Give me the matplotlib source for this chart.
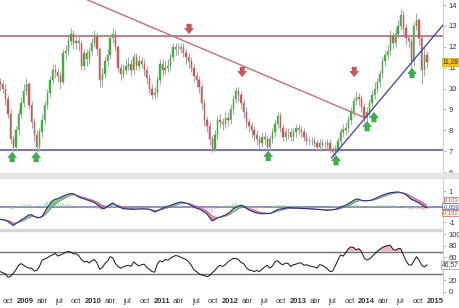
import numpy as np
import pandas as pd
import matplotlib
matplotlib.use("Agg")
import matplotlib.pyplot as plt
import matplotlib.dates as mdates
from matplotlib.patches import Rectangle
import logging
logging.getLogger('matplotlib.font_manager').setLevel(logging.ERROR)

plt.rcParams['font.family'] = ['Liberation Sans', 'DejaVu Sans']
NARROW = ['Liberation Sans Narrow', 'Liberation Sans', 'DejaVu Sans']

# ---------------- data (bi-weekly candles) ----------------
start_date = '2008-08-20'
first_open = 10.3
closes = [10.2,10.0,9.5,8.8,7.6,7.2,8.0,8.8,9.3,9.9,
          10.2,9.2,8.4,7.8,7.2,7.9,8.5,9.2,9.8,10.4,
          10.9,10.8,10.6,10.3,11.7,11.8,12.3,12.6,12.2,12.3,
          12.2,11.1,11.7,11.4,11.8,12.2,12.5,11.9,10.4,10.7,
          11.3,11.6,12.4,12.6,12.0,11.0,10.7,10.9,11.1,11.2,
          10.9,11.5,11.1,11.3,11.2,10.9,10.5,10.0,9.7,9.8,
          10.4,11.2,10.9,11.0,11.1,11.5,12.0,11.9,11.9,12.0,
          11.7,11.5,11.3,11.0,10.6,10.4,10.1,9.3,8.5,8.2,
          7.6,7.1,7.8,8.5,8.4,8.3,8.6,8.5,9.0,9.5,
          9.9,9.7,9.3,8.9,8.4,8.2,8.0,7.8,7.6,7.4,
          7.7,7.6,7.2,7.6,7.9,8.3,8.7,8.1,7.7,7.9,
          7.9,7.7,7.9,8.1,8.0,7.9,7.7,7.5,7.5,7.5,
          7.4,7.2,7.4,7.3,7.3,7.4,7.1,6.95,7.1,7.5,
          7.9,8.0,8.1,8.5,8.9,9.4,9.6,9.5,9.1,8.6,
          8.9,9.3,9.7,10.0,10.3,10.7,11.3,11.6,11.8,12.5,
          12.2,12.6,13.0,13.5,12.9,12.4,12.3,11.3,13.0,13.3,
          12.4,10.9,11.6,11.28]
highs = [10.5,10.4,10.2,9.7,9.0,7.8,8.2,9.0,9.6,10.2,
         10.5,10.3,9.4,8.6,8.0,8.1,8.8,9.4,10.0,10.6,
         11.2,11.2,11.0,10.8,11.9,12.1,12.5,12.9,12.8,12.6,
         12.5,12.3,11.9,11.9,12.0,12.4,12.8,12.7,12.0,11.0,
         11.5,11.9,12.6,12.9,12.8,12.1,11.2,11.2,11.4,11.5,
         11.4,11.7,11.7,11.6,11.5,11.4,11.1,10.7,10.2,10.1,
         10.6,11.4,11.4,11.3,11.4,11.7,12.2,12.2,12.2,12.2,
         12.2,11.9,11.7,11.5,11.2,10.8,10.6,10.2,9.5,8.7,
         8.4,7.8,8.0,8.7,8.8,8.6,8.9,8.9,9.2,9.7,
         10.1,10.1,9.9,9.5,9.1,8.6,8.4,8.2,8.0,7.8,
         7.9,7.9,7.8,7.8,8.1,8.5,8.9,8.9,8.3,8.1,
         8.1,8.1,8.1,8.3,8.3,8.2,8.1,7.9,7.7,7.7,
         7.7,7.6,7.6,7.6,7.5,7.6,7.6,7.2,7.3,7.7,
         8.1,8.3,8.4,8.7,9.1,9.6,9.9,9.8,9.7,9.3,
         9.1,9.5,9.9,10.3,10.5,10.9,11.5,11.8,12.1,12.8,
         12.7,12.9,13.3,13.8,13.7,13.1,12.6,12.4,13.2,13.6,
         13.4,12.5,12.0,11.8]
lows = [9.9,9.8,9.2,8.6,7.4,6.95,7.0,7.8,8.6,9.1,
        9.7,9.0,8.1,7.5,6.95,7.0,7.7,8.3,9.0,9.6,
        10.2,10.5,10.3,10.0,10.2,11.4,11.6,12.1,11.9,11.9,
        11.8,10.9,10.9,11.1,11.2,11.6,12.0,11.6,10.1,10.1,
        10.5,11.1,11.4,12.2,11.8,10.8,10.4,10.5,10.7,10.9,
        10.6,10.7,10.9,10.9,11.0,10.6,10.2,9.8,9.5,9.5,
        9.6,10.2,10.6,10.7,10.8,10.9,11.3,11.6,11.6,11.7,
        11.5,11.2,11.0,10.8,10.3,10.1,9.8,9.0,8.2,7.9,
        7.3,6.95,7.0,7.6,8.1,8.0,8.1,8.2,8.3,8.8,
        9.3,9.4,9.0,8.6,8.1,7.9,7.7,7.5,7.3,7.1,
        7.2,7.3,7.0,7.0,7.4,7.7,8.1,7.9,7.5,7.5,
        7.6,7.5,7.5,7.7,7.8,7.7,7.5,7.3,7.3,7.3,
        7.2,7.0,7.0,7.1,7.1,7.1,6.9,6.75,6.8,6.9,
        7.3,7.7,7.8,7.9,8.3,8.7,9.2,9.2,8.9,8.4,
        8.4,8.7,9.1,9.5,9.8,10.1,10.5,11.1,11.4,11.6,
        11.9,12.0,12.4,12.8,12.6,12.1,12.0,11.0,11.1,12.8,
        12.1,10.2,10.6,11.0]
macd = [-0.80,-0.84,-0.88,-0.95,-1.08,-1.20,-1.08,-0.97,-0.85,-0.75,
        -0.63,-0.52,-0.52,-0.62,-0.70,-0.70,-0.62,-0.35,-0.05,0.17,
        0.38,0.47,0.52,0.58,0.67,0.74,0.80,0.84,0.83,0.72,
        0.62,0.55,0.50,0.44,0.39,0.33,0.26,0.14,0.02,-0.12,
        -0.10,0.02,0.15,0.24,0.12,0.02,-0.06,-0.13,-0.14,-0.15,
        -0.16,-0.17,-0.16,-0.15,-0.14,-0.14,-0.15,-0.17,-0.25,-0.33,
        -0.27,-0.18,-0.10,-0.04,0.01,0.08,0.15,0.20,0.26,0.30,
        0.27,0.23,0.17,0.07,-0.02,-0.10,-0.15,-0.24,-0.35,-0.47,
        -0.70,-0.91,-0.82,-0.72,-0.66,-0.60,-0.53,-0.44,-0.30,-0.13,
        -0.04,0.05,0.08,0.04,-0.10,-0.20,-0.28,-0.35,-0.40,-0.43,
        -0.45,-0.44,-0.44,-0.43,-0.36,-0.27,-0.18,-0.15,-0.12,-0.09,
        -0.06,-0.07,-0.08,-0.09,-0.10,-0.11,-0.12,-0.13,-0.14,-0.15,
        -0.16,-0.17,-0.18,-0.20,-0.22,-0.23,-0.21,-0.19,-0.17,-0.11,
        -0.04,0.03,0.10,0.19,0.29,0.40,0.49,0.47,0.41,0.37,
        0.38,0.40,0.43,0.50,0.58,0.66,0.73,0.79,0.85,0.89,
        0.91,0.93,0.94,0.90,0.85,0.77,0.62,0.47,0.40,0.32,
        0.24,0.12,0.00,-0.06]
rsi = [35,33,31,25,27,32,38,46,49,46,
       43,41,41,36,37,44,55,57,59,62,
       64,67,62,64,66,68.5,70,69,66,66,
       63,56,52,53,50,54,56,50,39,42,
       49,53,61,59,49,44,41,43,45,46,
       44,52,48,45,47,48,42,39,35,34,
       48,54,52,56,55,58,61,63,62,60,
       58,56,52,46,38,35,31,29,28,26,
       28,33,37,43,46,44,47,52,55,58,
       58,56,51,49,42,38,37,35,37,35,
       39,43,46,41,45,52,54,49,47,50,
       49,44,47,48,50,50,46,47,45,44,
       43,41,47,46,43,40,35,36,45,55,
       64,62,68,75,78,77,73,75,70,59,
       55,57,61,66,70,74,77,79,80,81,
       74,72,75,75,64,54,47,46,53,61,
       55,46,43,46.57]

support_level = 7.06
resist_level = 12.53
red_trend_dates = ['2009-12-01', '2013-12-13']
red_trend_vals = [14.24, 8.64]
blue_trend_dates = ['2013-06-27', '2015-02-13']
blue_trend_vals = [6.68, 13.04]
up_arrow_dates = ['2008-10-23', '2009-02-28', '2012-07-23', '2013-07-21',
                  '2014-01-03', '2014-02-09', '2014-08-31']
up_arrow_vals = [6.73, 6.73, 6.78, 6.58, 8.21, 8.64, 10.75]
down_arrow_dates = ['2011-05-27', '2012-03-06', '2013-10-26']
down_arrow_vals = [12.85, 10.79, 10.79]
macd_labels = ['0,103', '-0,059', '-0,162']
rsi_ticks = [0, 20, 60, 80, 100]
month_ticks = pd.date_range('2008-10-01', '2015-01-01', freq='QS-JAN')
month_names = {4: 'abr', 7: 'jul', 10: 'oct'}

# ---------------- derived ----------------
dates = pd.date_range(start_date, periods=len(closes), freq='14D')
xd = mdates.date2num(dates)
closes_a = np.array(closes)
opens_a = np.concatenate([[first_open], closes_a[:-1]])
highs_a = np.maximum(np.array(highs), np.maximum(opens_a, closes_a))
lows_a = np.minimum(np.array(lows), np.minimum(opens_a, closes_a))
signal = pd.Series(macd).ewm(span=5, adjust=False).mean().values
macd_a = np.array(macd)
hist = macd_a - signal
rsi_a = np.array(rsi)

W, H = 460, 308
fig = plt.figure(figsize=(W / 100, H / 100), dpi=100)
fig.patch.set_facecolor('white')

def pos(top, bottom, right=443):
    return [0, 1 - bottom / H, right / W, (bottom - top) / H]

ax1 = fig.add_axes(pos(0, 173))
ax2 = fig.add_axes(pos(178, 228), sharex=ax1)
ax3 = fig.add_axes(pos(231, 294), sharex=ax1)

fig.patches.append(Rectangle((0, 1 - 178 / H), 1, 5 / H, transform=fig.transFigure,
                             color='#e4e4e4', zorder=0))
fig.patches.append(Rectangle((0, 1 - 231 / H), 443 / W, 2 / H, transform=fig.transFigure,
                             color='#d8d8d8', zorder=0))

tick_color = '#333333'
for ax in (ax1, ax2, ax3):
    ax.set_facecolor('white')
    for s in ('left', 'top', 'bottom'):
        ax.spines[s].set_visible(False)
    ax.spines['right'].set_color('#cfcfcf')
    ax.spines['right'].set_linewidth(0.8)
    ax.yaxis.tick_right()
    ax.tick_params(axis='y', length=2, width=0.5, color='#999999', pad=2,
                   labelsize=5.5, labelcolor=tick_color)
    ax.tick_params(axis='x', length=0)


def value_box(ax, text, yv, fs, color, fc, ec):
    # right-aligned against the figure's right edge so the box stays inside
    ax.annotate(text, xy=(1.0, yv), xycoords=('figure fraction', 'data'),
                xytext=(-0.8, 0), textcoords='offset points',
                fontsize=fs, family=NARROW, color=color, va='center', ha='right', zorder=10,
                bbox=dict(boxstyle='square,pad=0.1', fc=fc, ec=ec, lw=0.45),
                annotation_clip=False)

# ---------------- price panel ----------------
up = closes_a >= opens_a
green, red = '#3fae3f', '#c8585a'
ax1.vlines(xd, lows_a, highs_a, colors='#a8a8a8', linewidth=0.8, zorder=2)
ax1.bar(xd[up], (closes_a - opens_a)[up], bottom=opens_a[up], width=7,
        color=green, edgecolor=green, linewidth=0.3, zorder=3)
ax1.bar(xd[~up], (opens_a - closes_a)[~up], bottom=closes_a[~up], width=7,
        color=red, edgecolor=red, linewidth=0.3, zorder=3)

ax1.axhline(resist_level, color='#a86068', lw=1.1, zorder=1)
ax1.axhline(support_level, color='#6a6aa8', lw=1.3, zorder=1)
ax1.plot(mdates.date2num(pd.to_datetime(red_trend_dates)), red_trend_vals,
         color='#c27078', lw=1.0, zorder=4)
ax1.plot(mdates.date2num(pd.to_datetime(blue_trend_dates)), blue_trend_vals,
         color='#3b3bb5', lw=0.9, zorder=4)

astyle = 'simple,head_width=0.9,head_length=0.55,tail_width=0.45'
for d, v in zip(up_arrow_dates, up_arrow_vals):
    x = mdates.date2num(pd.Timestamp(d))
    ax1.annotate('', xy=(x, v + 0.22), xytext=(x, v - 0.24),
                 arrowprops=dict(arrowstyle=astyle, fc='#3cb04a', ec='#2a8a35', lw=0.3,
                                 mutation_scale=7, shrinkA=0, shrinkB=0), zorder=5)
for d, v in zip(down_arrow_dates, down_arrow_vals):
    x = mdates.date2num(pd.Timestamp(d))
    ax1.annotate('', xy=(x, v - 0.22), xytext=(x, v + 0.24),
                 arrowprops=dict(arrowstyle=astyle, fc='#c9575c', ec='#a84045', lw=0.3,
                                 mutation_scale=7, shrinkA=0, shrinkB=0), zorder=5)

ax1.set_ylim(5.96, 14.24)
ax1.set_yticks(range(6, 15))
value_box(ax1, f'{closes[-1]:.2f}'.replace('.', ','), closes[-1], 4.8,
          '#333333', '#f2c230', '#d9a400')

# ---------------- MACD panel ----------------
ax2.axhline(0, color='#6f7fb5', lw=1.2, zorder=1)
ax2.bar(xd, hist, width=9, color=np.where(hist >= 0, '#9fd99f', '#f0a8b8'),
        alpha=0.6, zorder=1)
ax2.fill_between(xd, macd_a, signal, where=macd_a >= signal, interpolate=True,
                 color='#5cbf5c', alpha=0.75, lw=0, zorder=2)
ax2.fill_between(xd, macd_a, signal, where=macd_a < signal, interpolate=True,
                 color='#d9607a', alpha=0.75, lw=0, zorder=2)
ax2.plot(xd, signal, color='#8a6f9a', lw=0.5, zorder=3)
ax2.plot(xd, macd_a, color='#2e2a78', lw=0.8, zorder=4)
ax2.set_ylim(-1.36, 1.83)
ax2.set_yticks([-1, 1])
ax2.set_yticklabels(['-1', '1'])
for lab, yv, c in zip(macd_labels, [0.45, 0.02, -0.42], ['#c0504d', '#2e4fb0', '#c0504d']):
    value_box(ax2, lab, yv, 4.2, c, 'white', c)

# ---------------- RSI panel ----------------
ax3.axhline(70, color='#707070', lw=1.0, zorder=1)
ax3.axhline(30, color='#707070', lw=1.0, zorder=1)
ax3.fill_between(xd, rsi_a, 70, where=rsi_a >= 70, interpolate=True,
                 color='#e0a8b4', alpha=0.8, lw=0, zorder=2)
ax3.plot(xd, rsi_a, color='#111111', lw=0.7, zorder=3)
ax3.set_ylim(-4, 105.7)
ax3.set_yticks(rsi_ticks)
value_box(ax3, f'{rsi[-1]:.2f}'.replace('.', ','), rsi[-1], 4.8,
          '#333333', 'white', '#888888')

# ---------------- x axis ----------------
labels = [str(d.year) if d.month == 1 else month_names[d.month] for d in month_ticks]
ax3.set_xticks(mdates.date2num(month_ticks))
ax3.set_xticklabels(labels)
ax3.tick_params(axis='x', labelsize=5.5, labelcolor=tick_color, pad=3)
for lbl, d in zip(ax3.get_xticklabels(), month_ticks):
    if d.month == 1:
        lbl.set_fontweight('bold')
for ax in (ax1, ax2):
    ax.tick_params(axis='x', labelbottom=False)
ax1.set_xlim(mdates.date2num(pd.Timestamp('2008-08-19')),
             mdates.date2num(pd.Timestamp('2015-02-13')))

fig.savefig('out.png', dpi=100, facecolor='white')
